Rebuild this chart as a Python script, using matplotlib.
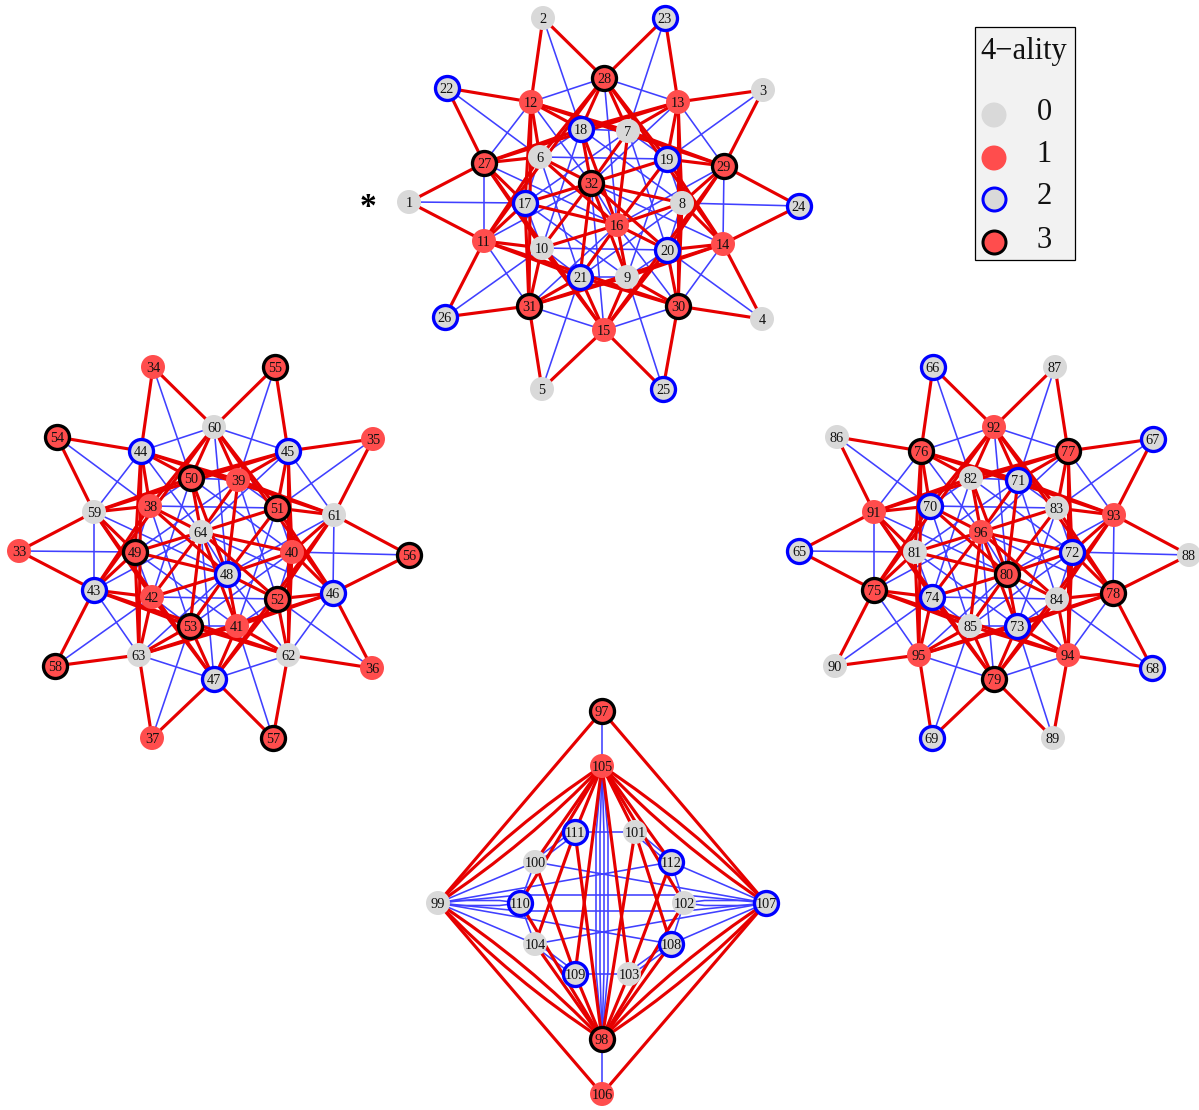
import matplotlib
matplotlib.use("Agg")
import matplotlib.pyplot as plt
from matplotlib.path import Path
from matplotlib.patches import Rectangle, PathPatch

plt.rcParams['font.family'] = ['Liberation Serif', 'DejaVu Serif']

# star template: node id -> pixel position (ids 1..32); blocks 2 and 3 repeat it
star_x = {1:409,2:543,3:763,4:762,5:542,6:540,7:628,8:682,9:627,10:542,11:484,12:531,13:678,14:723,15:604,16:617,
          17:525,18:581,19:667,20:667,21:580,22:447,23:665,24:799,25:663,26:445,27:484,28:604,29:724,30:678,31:529,32:591}
star_y = {1:202,2:18,3:90,4:319,5:389,6:157,7:131,8:203,9:277,10:248,11:241,12:102,13:102,14:244,15:330,16:225,
          17:203,18:129,19:159,20:250,21:277,22:88,23:18,24:206,25:389,26:317,27:163,28:78,29:166,30:306,31:306,32:183}

star_red = [(1,11),(1,27),(2,12),(2,28),(3,13),(3,29),(4,14),(4,30),(5,15),(5,31),
            (22,27),(22,12),(23,28),(23,13),(24,29),(24,14),(25,30),(25,15),(26,31),(26,11),
            (27,6),(27,10),(28,7),(28,6),(29,8),(29,7),(30,9),(30,8),(31,10),(31,9),
            (27,17),(27,18),(28,18),(28,19),(29,19),(29,20),(30,20),(30,21),(31,21),(31,17),
            (27,13),(27,15),(28,14),(28,11),(29,15),(29,12),(30,11),(30,13),(31,12),(31,14),
            (11,6),(11,10),(12,7),(12,6),(13,8),(13,7),(14,9),(14,8),(15,10),(15,9),
            (11,17),(11,21),(12,18),(12,17),(13,19),(13,18),(14,20),(14,19),(15,21),(15,20),
            (32,6),(32,7),(32,8),(32,9),(32,10),(32,17),(32,18),(32,19),(32,20),(32,21),
            (16,6),(16,7),(16,8),(16,9),(16,10),(16,17),(16,18),(16,19),(16,20),(16,21)]
star_blue = [(1,17),(2,18),(3,19),(4,20),(5,21),(22,6),(23,7),(24,8),(25,9),(26,10),
             (27,11),(27,12),(28,12),(28,13),(29,13),(29,14),(30,14),(30,15),(31,15),(31,11),
             (6,17),(6,18),(6,19),(6,21),(7,18),(7,19),(7,20),(7,17),(8,19),(8,20),(8,21),(8,18),
             (9,20),(9,21),(9,17),(9,19),(10,21),(10,17),(10,18),(10,20),
             (32,11),(32,12),(32,13),(32,14),(32,15),(16,27),(16,28),(16,29),(16,30),(16,31),(16,32)]

block_id_shift = [0, 32, 64]
block_dx = [0, -390, 390]
block_dy = [0, 349, 349]

# diamond block
dia_x = {97:602,98:602,99:438,100:535,101:635,102:684,103:629,104:535,105:602,106:602,107:766,108:671,109:575,110:520,111:575,112:671}
dia_y = {97:711,98:1039,99:903,100:862,101:832,102:903,103:974,104:944,105:766,106:1094,107:903,108:944,109:974,110:903,111:832,112:862}
dia_red = [(97,99),(97,107),(106,99),(106,107),
           (105,100),(105,110),(105,111),(105,109),(105,101),(105,103),(105,112),(105,102),
           (98,104),(98,110),(98,109),(98,111),(98,103),(98,101),(98,108),(98,102),
           (111,104),(100,109),(101,108),(112,103)]
dia_red_multi = [(99,105,-6),(99,105,6),(105,107,-6),(105,107,6),(98,99,-6),(98,99,6),(107,98,-6),(107,98,6)]
dia_blue = [(97,105),(98,106),(111,101),(109,103),
            (100,110),(104,110),(102,112),(102,108),(99,100),(99,104),(99,112),(99,108),
            (107,112),(107,108),(107,100),(107,104)]
dia_blue_multi = [(99,107,-8),(99,107,8),(105,98,-6),(105,98,-2),(105,98,2),(105,98,6),
                  (100,111,2),(100,111,-2),(104,109,2),(104,109,-2),(101,112,2),(101,112,-2),
                  (103,108,2),(103,108,-2),(99,110,2.5),(99,110,-2.5),(102,107,2.5),(102,107,-2.5)]

# 4-ality of each node id
ality = {}
for ids, a in [(range(1,11),0),(range(11,17),1),(range(17,27),2),(range(27,33),3),
               (range(33,43),1),(range(43,49),2),(range(49,59),3),(range(59,65),0),
               (range(65,75),2),(range(75,81),3),(range(81,91),0),(range(91,97),1),
               ([97,98],3),(range(99,105),0),([105,106],1),(range(107,113),2)]:
    for n in ids:
        ality[n] = a

legend_title = "4\u2212ality"
legend_values = [0, 1, 2, 3]

RED, BLUE = '#e60000', '#4040ff'
RED_LW, BLUE_LW = 2.25, 1.15
face = {0:'#d9d9d9', 1:'#ff4d4d', 2:'#d9d9d9', 3:'#ff4d4d'}
edge = {0:'#d9d9d9', 1:'#ff4d4d', 2:'#0000ff', 3:'#000000'}

fig = plt.figure(figsize=(11.99, 11.10), dpi=100)
ax = fig.add_axes([0, 0, 1, 1])
ax.set_xlim(0, 1199); ax.set_ylim(1110, 0); ax.axis('off')

def line(x0, y0, x1, y1, color, lw, z):
    ax.plot([x0, x1], [y0, y1], color=color, lw=lw, solid_capstyle='butt', zorder=z)

def multi(u, v, b, color, lw, z):
    (x0, y0), (x1, y1) = pos[u], pos[v]
    L = ((x1-x0)**2+(y1-y0)**2)**0.5
    nx, ny = (y1-y0)/L*b, -(x1-x0)/L*b
    xs = [x0, x0+(x1-x0)*0.25+nx, x0+(x1-x0)*0.75+nx, x1]
    ys = [y0, y0+(y1-y0)*0.25+ny, y0+(y1-y0)*0.75+ny, y1]
    ax.plot(xs, ys, color=color, lw=lw, solid_capstyle='butt', solid_joinstyle='round', zorder=z)

def curved(u, v, b, color, lw, z):
    (x0, y0), (x1, y1) = pos[u], pos[v]
    L = ((x1-x0)**2+(y1-y0)**2)**0.5
    cx = (x0+x1)/2 + 2*b*(y1-y0)/L
    cy = (y0+y1)/2 - 2*b*(x1-x0)/L
    ax.add_patch(PathPatch(Path([(x0,y0),(cx,cy),(x1,y1)],[Path.MOVETO,Path.CURVE3,Path.CURVE3]),
                           fc='none', ec=color, lw=lw, zorder=z))

def node(x, y, n, a, label=True):
    d, w = (24, 0) if a < 2 else (24, 3.3)
    ax.scatter([x], [y], s=(d*0.72)**2, c=face[a], edgecolors=edge[a] if a >= 2 else 'none',
               linewidths=w*0.72, zorder=5)
    if label:
        ax.text(x, y, str(n), ha='center', va='center_baseline', fontsize=10.3, color='#111111', zorder=6)

pos = {}
for sh, dx, dy in zip(block_id_shift, block_dx, block_dy):
    for n in star_x:
        pos[n+sh] = (star_x[n]+dx, star_y[n]+dy)
    for u, v in star_blue:
        line(*pos[u+sh], *pos[v+sh], BLUE, BLUE_LW, 2)
    for u, v in star_red:
        line(*pos[u+sh], *pos[v+sh], RED, RED_LW, 3)
for n in dia_x:
    pos[n] = (dia_x[n], dia_y[n])

for u, v in dia_blue:
    line(*pos[u], *pos[v], BLUE, BLUE_LW, 2)
for u, v, b in dia_blue_multi:
    multi(u, v, b, BLUE, BLUE_LW, 2)
for u, v in dia_red:
    line(*pos[u], *pos[v], RED, RED_LW, 3)
for u, v, b in dia_red_multi:
    curved(u, v, b, RED, RED_LW, 3)

for n, (x, y) in pos.items():
    node(x, y, n, ality[n])

ax.text(368, 216, "*", fontsize=24, fontweight='bold', ha='center', va='baseline', color='black')

ax.add_patch(Rectangle((974.5, 26.5), 100, 233, fc='#f2f2f2', ec='black', lw=0.9, zorder=1))
ax.text(1024, 51, legend_title, fontsize=22, ha='center', va='center', color='#111111', zorder=6)
for a, cy, ty in zip(legend_values, [115, 158, 199, 242], [112, 154, 197, 240]):
    d, w = (25, 0) if a < 2 else (23, 3)
    ax.scatter([994], [cy], s=(d*0.72)**2, c=face[a], edgecolors=edge[a] if a >= 2 else 'none',
               linewidths=w*0.72, zorder=5)
    ax.text(1044, ty, str(a), fontsize=22, ha='center', va='center', color='#111111', zorder=6)

fig.savefig("out.png", dpi=100)
